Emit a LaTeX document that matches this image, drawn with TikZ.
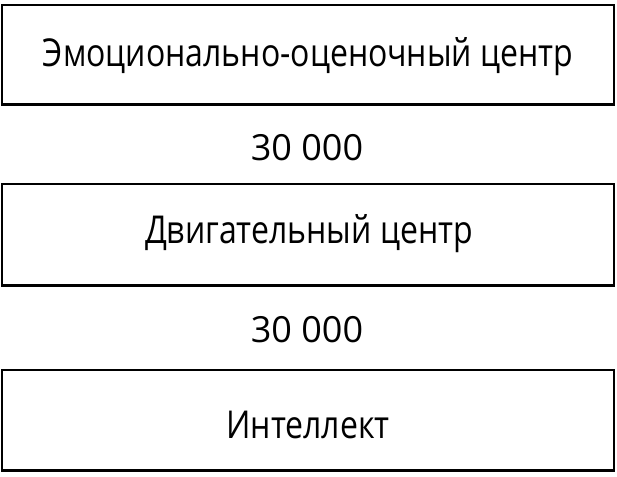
\documentclass[tikz,border=0pt]{standalone}
\usepackage{fontspec}
\usepackage{graphicx}
\setmainfont{Open Sans}
\newcommand{\boxcol}{black}
\newcommand{\numcol}{black}
\newcommand{\tall}[1]{\scalebox{1}[1.2]{#1}}

\begin{document}
\begin{tikzpicture}[x=1pt, y=-1pt]
    \useasboundingbox (0, 0) rectangle (617, 476);

    \node[draw=\boxcol, line width=1.4pt, minimum width=612pt, minimum height=99pt] (emo) at (308, 54.5) {};
    \node[draw=\boxcol, line width=1.4pt, minimum width=612pt, minimum height=101pt] (motor) at (308, 234.5) {};
    \node[draw=\boxcol, line width=1.4pt, minimum width=612pt, minimum height=100pt] (intel) at (308, 420) {};

    \node[anchor=base, inner sep=0pt, font=\fontsize{32}{36}\selectfont] (emotxt) at (308, 67) {\tall{Эмоционально-оценочный центр}};
    \node[anchor=base, inner sep=0pt, font=\fontsize{32}{36}\selectfont] (motortxt) at (309, 243) {\tall{Двигательный центр}};
    \node[anchor=base, inner sep=0pt, font=\fontsize{32}{36}\selectfont] (inteltxt) at (308, 438) {\tall{Интеллект}};

    \node[\numcol, anchor=base, inner sep=0pt, font=\fontsize{36}{40}\selectfont] (n1) at (307, 160) {30 000};
    \node[\numcol, anchor=base, inner sep=0pt, font=\fontsize{36}{40}\selectfont] (n2) at (307, 342) {30 000};

    \draw[draw=\boxcol, line width=2.6pt] (emo.south west) -- (emo.south east);
    \draw[draw=\boxcol, line width=2.6pt] (motor.south west) -- (motor.south east);
    \draw[draw=\boxcol, line width=2.6pt] (intel.south west) -- (intel.south east);
  \end{tikzpicture}
\end{document}
